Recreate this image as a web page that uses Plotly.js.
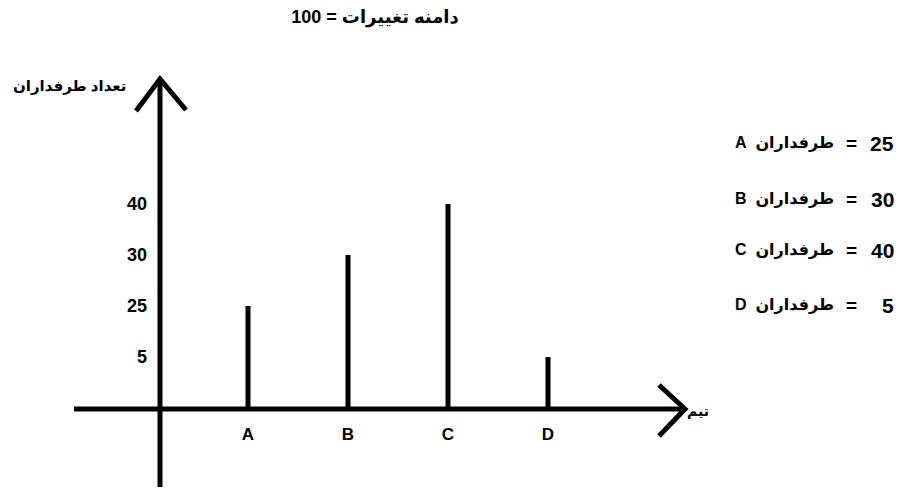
<!DOCTYPE html>
<html>
<head>
<meta charset="utf-8">
<script src="https://cdn.plot.ly/plotly-3.0.1.min.js"></script>
<style>html,body{margin:0;padding:0;background:#fff;}#chart{width:902px;height:489px;}</style>
</head>
<body>
<div id="chart"></div>
<script>
// ---- data ----
const teams = ['A', 'B', 'C', 'D'];
const fans = [25, 30, 40, 5];
const yTickLabels = ['0', '5', '25', '30', '40'];
const shownYTicks = ['5', '25', '30', '40'];
const chartTitle = '\u062F\u0627\u0645\u0646\u0647 \u062A\u063A\u06CC\u06CC\u0631\u0627\u062A = 100';
const yTitle = '\u062A\u0639\u062F\u0627\u062F \u0637\u0631\u0641\u062F\u0627\u0631\u0627\u0646';
const xTitle = '\u062A\u06CC\u0645';
const fanWord = '\u0637\u0631\u0641\u062F\u0627\u0631\u0627\u0646';

// ---- layout geometry (pixels) ----
const W = 902, H = 489;
const L = 160, R = 680, T = 80, B = 408;
const px = x => (x - L) / (R - L);
const py = y => (B - y) / (B - T);

const FONT = 'Liberation Sans, Arial, DejaVu Sans, sans-serif';
const black = '#000000';

const trace = {
  type: 'bar',
  x: teams,
  y: fans.map(String),
  width: 0.05,
  marker: {color: black, line: {width: 0}},
  hoverinfo: 'skip'
};

const shapes = [
  {type: 'line', xref: 'paper', yref: 'paper', x0: 0, x1: 0, y0: py(487), y1: py(79), line: {color: black, width: 5}},
  {type: 'line', xref: 'paper', yref: 'paper', x0: px(74), x1: px(685), y0: py(409), y1: py(409), line: {color: black, width: 5}},
  {type: 'path', xref: 'paper', yref: 'paper',
   path: `M ${px(136)} ${py(111)} L ${px(160)} ${py(79)} L ${px(186)} ${py(110)}`,
   line: {color: black, width: 5}},
  {type: 'path', xref: 'paper', yref: 'paper',
   path: `M ${px(659)} ${py(385)} L ${px(685)} ${py(409)} L ${px(659)} ${py(436)}`,
   line: {color: black, width: 5}}
];

const annotations = [
  {text: yTitle, xref: 'paper', yref: 'paper', x: px(69), y: py(86), showarrow: false,
   xanchor: 'center', yanchor: 'middle', font: {family: FONT, size: 15, color: black, weight: 'bold'}},
  {text: xTitle, xref: 'paper', yref: 'paper', x: px(685), y: py(411), showarrow: false,
   xanchor: 'left', yanchor: 'middle', font: {family: FONT, size: 14, color: black, weight: 'bold'}}
];

const rowY = [143, 199, 250, 305];
teams.forEach((t, i) => {
  annotations.push({text: t + '\u00A0\u00A0' + fanWord, xref: 'paper', yref: 'paper', x: px(836), y: py(rowY[i]),
    showarrow: false, xanchor: 'right', yanchor: 'middle',
    font: {family: FONT, size: 16, color: black, weight: 'bold'}});
  annotations.push({text: '=', xref: 'paper', yref: 'paper', x: px(851), y: py(rowY[i]),
    showarrow: false, xanchor: 'center', yanchor: 'middle',
    font: {family: FONT, size: 19, color: black, weight: 'bold'}});
  annotations.push({text: String(fans[i]), xref: 'paper', yref: 'paper', x: px(896), y: py(rowY[i]),
    showarrow: false, xanchor: 'right', yanchor: 'middle',
    font: {family: FONT, size: 21, color: black, weight: 'bold'}});
});

const layout = {
  width: W, height: H,
  margin: {l: L, r: W - R, t: T, b: H - B, pad: 0},
  paper_bgcolor: '#ffffff', plot_bgcolor: '#ffffff',
  showlegend: false,
  title: {text: chartTitle, x: 375 / W, xref: 'container', xanchor: 'center',
          y: 1 - 17 / H, yref: 'container', yanchor: 'middle',
          font: {family: FONT, size: 18, color: black, weight: 'bold'}},
  xaxis: {type: 'category', categoryorder: 'array', categoryarray: teams,
          range: [-0.88, 4.32], showline: false, showgrid: false, zeroline: false,
          ticks: '', ticklabelstandoff: 14,
          tickfont: {family: FONT, size: 17, color: black, weight: 'bold'}, fixedrange: true},
  yaxis: {type: 'category', categoryorder: 'array', categoryarray: yTickLabels,
          range: [0, (B - T) / 51], showline: false, showgrid: false, zeroline: false,
          tickmode: 'array', tickvals: shownYTicks, ticktext: shownYTicks,
          ticks: '', ticklabelstandoff: 12,
          tickfont: {family: FONT, size: 18, color: black, weight: 'bold'}, fixedrange: true},
  shapes: shapes,
  annotations: annotations,
  hovermode: false
};

Plotly.newPlot('chart', [trace], layout, {staticPlot: true, displayModeBar: false});
</script>
</body>
</html>
